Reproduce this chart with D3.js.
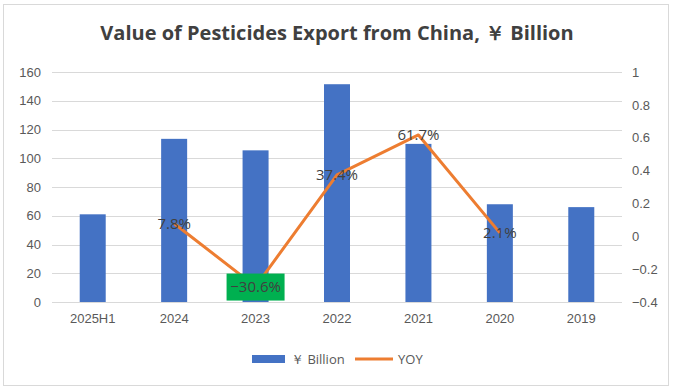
<html lang="en">
<head>
    <meta charset="utf-8">
    <title>Value of Pesticides Export from China</title>
    <script src="https://cdn.jsdelivr.net/npm/d3@7/dist/d3.min.js"></script>
    <style type="text/css">
        body {
            margin: 0;
            font-family: "Open Sans", sans-serif;
        }
        .axis path {
            display: none;
        }
        .axis text {
            fill: #595959;
            font-size: 13px;
        }
        .grid line {
            stroke: #d9d9d9;
        }
    </style>
</head>
<body>
<script type="text/javascript">

    var categories = ["2025H1", "2024", "2023", "2022", "2021", "2020", "2019"];
    var exportValues = [61, 113.5, 105.5, 151.5, 110, 68, 66];
    // YOY growth, no value for 2025H1 and 2019
    var yoyValues = [null, 0.078, -0.306, 0.374, 0.617, 0.021, null];
    var leftTicks = [0, 20, 40, 60, 80, 100, 120, 140, 160];
    var rightTicks = [-0.4, -0.2, 0, 0.2, 0.4, 0.6, 0.8, 1];

    var width = 674, height = 390;
    var margin = {top: 72, right: 52, bottom: 88, left: 52};
    var plotW = width - margin.left - margin.right,
        plotH = height - margin.top - margin.bottom;

    var svg = d3.select("body").append("svg")
        .attr("width", width)
        .attr("height", height);

    // chart border
    svg.append("rect")
        .attr("x", 3.5).attr("y", 4.5)
        .attr("width", 665).attr("height", 381)
        .attr("fill", "#fff")
        .attr("stroke", "#d9d9d9");

    svg.append("text")
        .attr("x", 337).attr("y", 40)
        .attr("text-anchor", "middle")
        .style("font-size", "20px")
        .style("font-weight", "bold")
        .style("fill", "#404040")
        .text("Value of Pesticides Export from China, ￥ Billion");

    var g = svg.append("g")
        .attr("transform", "translate(" + margin.left + "," + margin.top + ")");

    var x = d3.scaleBand().domain(categories).range([0, plotW]);
    var yL = d3.scaleLinear().domain([0, 160]).range([plotH, 0]);
    var yR = d3.scaleLinear().domain([-0.4, 1]).range([plotH, 0]);

    g.append("g")
        .attr("class", "grid")
        .selectAll("line")
        .data(leftTicks).enter()
        .append("line")
        .attr("x1", 0).attr("x2", plotW)
        .attr("y1", function (d) { return Math.round(yL(d)) + 0.5; })
        .attr("y2", function (d) { return Math.round(yL(d)) + 0.5; });

    g.append("g")
        .attr("class", "axis")
        .call(d3.axisLeft(yL).tickValues(leftTicks).tickSize(0).tickPadding(11));

    g.append("g")
        .attr("class", "axis")
        .attr("transform", "translate(" + plotW + ",0)")
        .call(d3.axisRight(yR).tickValues(rightTicks).tickSize(0).tickPadding(10)
            .tickFormat(function (d) { return d3.format("")(+d.toFixed(1)); }));

    g.append("g")
        .attr("class", "axis")
        .attr("transform", "translate(0," + plotH + ")")
        .call(d3.axisBottom(x).tickSize(0).tickPadding(12));

    var barW = 26;
    g.selectAll(".bar")
        .data(exportValues).enter()
        .append("rect")
        .attr("class", "bar")
        .attr("x", function (d, i) { return x(categories[i]) + x.bandwidth() / 2 - barW / 2; })
        .attr("width", barW)
        .attr("y", function (d) { return yL(d); })
        .attr("height", function (d) { return plotH - yL(d); })
        .attr("fill", "#4472c4");

    var yoyPoints = [];
    yoyValues.forEach(function (v, i) {
        if (v !== null) yoyPoints.push({cat: categories[i], v: v});
    });

    var line = d3.line()
        .x(function (d) { return x(d.cat) + x.bandwidth() / 2; })
        .y(function (d) { return yR(d.v); });

    g.append("path")
        .datum(yoyPoints)
        .attr("d", line)
        .attr("fill", "none")
        .attr("stroke", "#ed7d31")
        .attr("stroke-width", 3)
        .attr("stroke-linejoin", "round");

    // label background for the negative value
    yoyPoints.forEach(function (d) {
        var cx = x(d.cat) + x.bandwidth() / 2, cy = yR(d.v);
        if (d.v < 0) {
            g.append("rect")
                .attr("x", cx - 29).attr("y", cy - 13)
                .attr("width", 58).attr("height", 27)
                .attr("fill", "#00b050");
        }
        g.append("text")
            .attr("x", cx).attr("y", cy)
            .attr("dy", "0.35em")
            .attr("text-anchor", "middle")
            .style("font-size", "15px")
            .style("fill", "#404040")
            .text(d3.format(".1%")(d.v));
    });

    // legend
    var legend = svg.append("g").attr("transform", "translate(252,359)");
    legend.append("rect")
        .attr("x", 0).attr("y", -4).attr("width", 33).attr("height", 8)
        .attr("fill", "#4472c4");
    legend.append("text")
        .attr("x", 39).attr("y", 0).attr("dy", "0.35em")
        .style("font-size", "13px").style("fill", "#595959")
        .text("￥ Billion");
    legend.append("line")
        .attr("x1", 103).attr("x2", 141).attr("y1", 0).attr("y2", 0)
        .attr("stroke", "#ed7d31").attr("stroke-width", 3);
    legend.append("text")
        .attr("x", 146).attr("y", 0).attr("dy", "0.35em")
        .style("font-size", "13px").style("fill", "#595959")
        .text("YOY");

</script>
</body>
</html>
